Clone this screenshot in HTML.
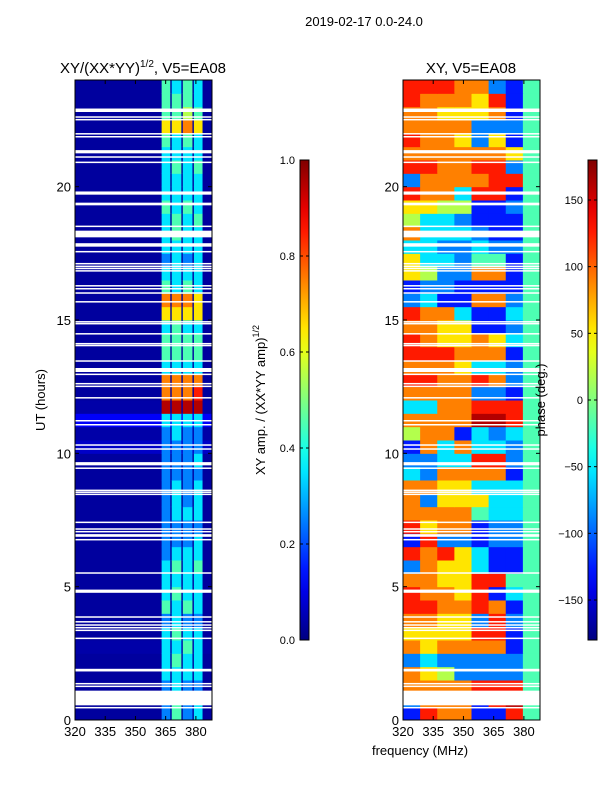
<!DOCTYPE html>
<html><head><meta charset="utf-8">
<style>
html,body{margin:0;padding:0;background:#fff;}
svg{display:block;font-family:"Liberation Sans","DejaVu Sans",sans-serif;}
</style></head>
<body>
<svg id="fig" width="600" height="800" viewBox="0 0 600 800" xmlns="http://www.w3.org/2000/svg">
<defs>
<linearGradient id="jetGrad" x1="0" y1="1" x2="0" y2="0"></linearGradient>
</defs>
<rect x="0" y="0" width="600" height="800" fill="#fff"/>
<text x="364" y="26" font-size="13" text-anchor="middle">2019-02-17 0.0-24.0</text>
<text x="143" y="73" font-size="15" text-anchor="middle">XY/(XX*YY)<tspan font-size="10" dy="-6">1/2</tspan><tspan dy="6">, V5=EA08</tspan></text>
<text x="471" y="73" font-size="15" text-anchor="middle">XY, V5=EA08</text>
<g id="leftPanel"></g>
<g id="rightPanel"></g>
<g id="overlay"></g>
<text transform="translate(45,400) rotate(-90)" font-size="13" text-anchor="middle">UT (hours)</text>
<text x="420" y="755" font-size="13" text-anchor="middle">frequency (MHz)</text>
<text transform="translate(265,400) rotate(-90)" font-size="13" text-anchor="middle">XY amp. / (XX*YY amp)<tspan font-size="9" dy="-6">1/2</tspan></text>
<text transform="translate(545,400) rotate(-90)" font-size="13" text-anchor="middle">phase (deg.)</text>
</svg>
<script>
// ---- data ----
var timeRowsStart = 0.0, timeRowStep = 0.5;
// amplitude bands, digit d -> (d+0.5)/10, rows from UT 0 upward
var ampBandRows = ["2423","2423","2322","3333","3433","3343","3433","2322","4343","3433","3333","3434","2333","2223","2222","2333","2323","2323","2222","2223","2222","2322","3333","9999","7778","7777","3333","4444","4444","3433","6666","7776","4343","3333","2323","3333","3433","3434","4343","3333","3333","3434","3333","4343","6676","4454","4443","4343"];
var ampBackground = [0.03,0.03,0.03,0.03,0.03,0.04,0.03,0.03,0.03,0.03,0.03,0.03,0.03,0.03,0.03,0.03,0.03,0.03,0.03,0.03,0.07,0.04,0.12,0.04,0.03,0.03,0.03,0.03,0.03,0.03,0.03,0.03,0.03,0.03,0.03,0.03,0.03,0.03,0.03,0.03,0.03,0.03,0.03,0.03,0.03,0.03,0.03,0.03];
var bandEdges = [[363,367.3],[368,372.8],[373.5,378.3],[379,383.3]];
// phase: 8 columns of 8.5 MHz from 320 MHz, digit d -> fraction (d+0.5)/10 of -180..180
var phaseRows = ["18771184","27771894","77778884","76522224","23222224","76777714","66668814","77662824","88778714","87768134","77668844","27663114","87863114","18221224","86771224","77774334","72666334","77663334","32777714","22338824","17373324","57713234","77779984","33778884","77772214","88778724","77763324","88877714","87667634","77661124","87731134","23117724","12211114","65227714","63324414","33223224","73332114","53321114","66551124","87738814","27777884","88778824","77777764","87762614","77772224","77666714","87776814","88877214"];
var phaseColStart = 320, phaseColWidth = 8.5;
// gaps (flagged data) [start UT, width hours]
var gaps = [[22.8,0.13],[22.6,0.04],[22.5,0.04],[21.97,0.04],[21.86,0.04],[21.25,0.12],[21.1,0.04],[20.9,0.04],[19.7,0.12],[19.3,0.1],[18.5,0.04],[18.1,0.25],[17.75,0.13],[17.55,0.04],[17.1,0.04],[17.0,0.04],[16.92,0.04],[16.83,0.04],[16.27,0.04],[16.16,0.04],[16.0,0.04],[15.67,0.04],[14.92,0.04],[14.85,0.04],[14.47,0.04],[14.1,0.04],[14.03,0.04],[13.45,0.04],[13.05,0.15],[12.95,0.04],[12.6,0.04],[12.5,0.04],[12.07,0.04],[11.2,0.05],[11.05,0.05],[10.3,0.04],[10.15,0.04],[9.55,0.12],[9.42,0.05],[8.6,0.04],[8.53,0.04],[8.45,0.04],[7.4,0.04],[7.15,0.04],[7.05,0.04],[6.87,0.1],[6.75,0.04],[5.5,0.04],[4.77,0.12],[3.85,0.04],[3.67,0.04],[3.55,0.04],[3.45,0.04],[3.35,0.04],[3.05,0.04],[1.82,0.1],[1.35,0.04],[1.25,0.04],[0.55,0.55],[0.45,0.04]];
var xTicks = [320,335,350,365,380];
var yTicks = [0,5,10,15,20];
var ampTicks = [0.0,0.2,0.4,0.6,0.8,1.0];
var ampTickLabels = ["0.0","0.2","0.4","0.6","0.8","1.0"];
var phaseTicks = [-150,-100,-50,0,50,100,150];

// ---- scales ----
var NS="http://www.w3.org/2000/svg";
var fMin=320,fMax=388,tMin=0,tMax=24;
var panelW=137, axTop=80, axBottom=720;
function xScale(f,x0){return x0+(f-fMin)*panelW/(fMax-fMin);}
function yScale(t){return axBottom-(t-tMin)*(axBottom-axTop)/(tMax-tMin);}
function jet(v){
  v=Math.max(0,Math.min(1,v));
  function c(x){return Math.max(0,Math.min(1,x));}
  var r=c(Math.min(4*v-1.5,-4*v+4.5)),g=c(Math.min(4*v-0.5,-4*v+3.5)),b=c(Math.min(4*v+0.5,-4*v+2.5));
  return "rgb("+Math.round(r*255)+","+Math.round(g*255)+","+Math.round(b*255)+")";
}
function mk(tag,attrs,parent){var e=document.createElementNS(NS,tag);for(var k in attrs)e.setAttribute(k,attrs[k]);parent.appendChild(e);return e;}

var gL=document.getElementById('leftPanel'), gR=document.getElementById('rightPanel'), gO=document.getElementById('overlay');
var LX=75, RX=403;

// left heatmap
ampBackground.forEach(function(bg,i){
  var t0=timeRowsStart+i*timeRowStep,t1=t0+timeRowStep;
  var r=mk('rect',{x:LX,y:yScale(t1),width:panelW,height:yScale(t0)-yScale(t1)+0.5,fill:jet(bg)},gL);
  
  
});
ampBandRows.forEach(function(s,i){
  var t0=timeRowsStart+i*timeRowStep,t1=t0+timeRowStep;
  for(var b=0;b<bandEdges.length;b++){
    var v=(parseInt(s[b])+0.5)/10;
    var x0=xScale(bandEdges[b][0],LX),x1=xScale(bandEdges[b][1],LX);
    var r=mk('rect',{x:x0,y:yScale(t1),width:x1-x0,height:yScale(t0)-yScale(t1)+0.5,fill:jet(v)},gL);
    
    
  }
});
// right heatmap
phaseRows.forEach(function(s,i){
  var t0=timeRowsStart+i*timeRowStep,t1=t0+timeRowStep;
  for(var c=0;c<s.length;c++){
    var f0=phaseColStart+c*phaseColWidth,f1=f0+phaseColWidth;
    var v=(parseInt(s[c])+0.5)/10;
    var x0=xScale(f0,RX),x1=xScale(Math.min(f1,fMax),RX);
    var r=mk('rect',{x:x0,y:yScale(t1),width:x1-x0+0.5,height:yScale(t0)-yScale(t1)+0.5,fill:jet(v)},gR);
    
    
  }
});
// gaps
[LX,RX].forEach(function(x0){
  gaps.forEach(function(g){
    var y1=yScale(g[0]+g[1]),y0=yScale(g[0]);
    var h=Math.max(1.5,y0-y1);
    var r=mk('rect',{x:x0,y:y1,width:panelW,height:h,fill:'#fff'},gO);
    
    
  });
});
// axes frames and ticks
[LX,RX].forEach(function(x0,pi){
  var fr=mk('rect',{x:x0,y:axTop,width:panelW,height:axBottom-axTop,fill:'none',stroke:'#000','stroke-width':1},gO);
  
  
  xTicks.forEach(function(f){
    var x=xScale(f,x0);
    mk('line',{x1:x,y1:axBottom,x2:x,y2:axBottom-4,stroke:'#000'},gO);
    mk('line',{x1:x,y1:axTop,x2:x,y2:axTop+4,stroke:'#000'},gO);
    var t=mk('text',{x:x,y:axBottom+16,'font-size':13,'text-anchor':'middle'},gO);
    t.textContent=f;
    
    
  });
  yTicks.forEach(function(v){
    var y=yScale(v);
    mk('line',{x1:x0,y1:y,x2:x0+4,y2:y,stroke:'#000'},gO);
    mk('line',{x1:x0+panelW,y1:y,x2:x0+panelW-4,y2:y,stroke:'#000'},gO);
    var t=mk('text',{x:x0-4,y:y+5,'font-size':13,'text-anchor':'end'},gO);
    t.textContent=v;
    
    
  });
});
// colorbars
var grad=document.getElementById('jetGrad');
for(var k=0;k<=20;k++){mk('stop',{offset:(k/20),'stop-color':jet(k/20)},grad);}
function colorbar(x,vmin,vmax,ticks,labels,name){
  var cb=mk('rect',{x:x,y:160,width:9,height:480,fill:'url(#jetGrad)',stroke:'#000','stroke-width':1},gO);
  
  
  ticks.forEach(function(v,i){
    var y=640-(v-vmin)/(vmax-vmin)*480;
    mk('line',{x1:x,y1:y,x2:x+3,y2:y,stroke:'#000'},gO);
    mk('line',{x1:x+9,y1:y,x2:x+6,y2:y,stroke:'#000'},gO);
    var t=mk('text',{x:x-5,y:y+4,'font-size':11,'text-anchor':'end'},gO);
    t.textContent=labels[i];
    
    
  });
}
colorbar(300,0,1,ampTicks,ampTickLabels,'amp-colorbar');
colorbar(588,-180,180,phaseTicks,phaseTicks.map(function(v){return v<0?'\u2212'+(-v):''+v;}),'phase-colorbar');
</script>
</body></html>
